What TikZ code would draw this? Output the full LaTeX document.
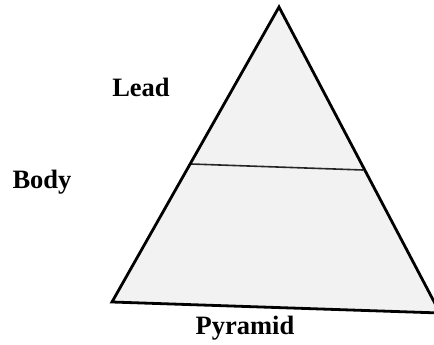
\documentclass[tikz,border=0pt]{standalone}
\usepackage{fontspec}
\setmainfont{Liberation Serif}
\tikzset{
  lbl/.style={font=\fontsize{26.5}{28}\selectfont\bfseries, inner sep=0pt},
  edge/.style={line width=2.8pt, line join=miter},
  divider/.style={line width=1.6pt, draw=black!85},
}
\begin{document}
\begin{tikzpicture}[x=1pt,y=-1pt]
\useasboundingbox (0,0) rectangle (434,345);
\begin{scope}
\clip (0,0) rectangle (434,345);
\coordinate (apex) at (279,7);
\coordinate (bl) at (112,302);
\coordinate (br) at (440,313);
\coordinate (ml) at (191,164);
\coordinate (mr) at (363,170);
\fill[black!5] (apex) -- (bl) -- (br) -- cycle;
\draw[divider] (ml) -- (mr);
\draw[edge] (apex) -- (bl) -- (br) -- cycle;
\end{scope}
\node[lbl] (lead) at (141,87) {Lead};
\node[lbl] (body) at (42,182) {Body};
\node[lbl] (pyr) at (245,328) {Pyramid};
\end{tikzpicture}
\end{document}
